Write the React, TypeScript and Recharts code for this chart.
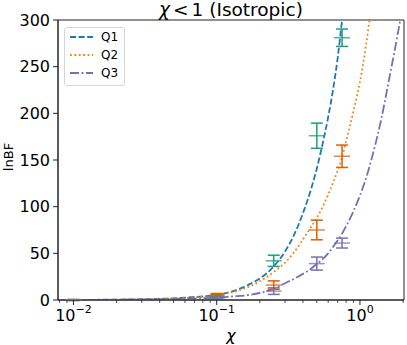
import { ComposedChart, Line, Scatter, ErrorBar, XAxis, YAxis, ReferenceArea } from "recharts";

// ===== data =====
const CURVE_X = [
  0.008, 0.01, 0.02, 0.03, 0.05, 0.07, 0.1, 0.13, 0.17, 0.2, 0.25, 0.3, 0.35,
  0.4, 0.45, 0.5, 0.55, 0.6, 0.65, 0.7, 0.75, 0.8, 0.9, 1.0, 1.1, 1.2, 1.4,
  1.6, 1.8, 2.0, 2.1,
];
const Q1_CURVE = [
  0, 0.1, 0.4, 0.8, 1.8, 3.2, 5.5, 9.5, 17, 23, 36, 52, 71, 93, 116, 141, 168,
  196, 226, 260, 300, 340, null, null, null, null, null, null, null, null, null,
];
const Q2_CURVE = [
  0, 0.1, 0.3, 0.7, 1.6, 2.8, 5, 8.5, 14.5, 20, 30, 40, 52, 65, 77, 88, 100,
  113, 126, 139, 153, 170, 202, 234, 272, 315, null, null, null, null, null,
];
const Q3_CURVE = [
  0, 0.05, 0.2, 0.4, 0.9, 1.5, 2.6, 3.8, 5.5, 7.5, 12, 18, 23, 28, 33, 38.5,
  44, 50, 57, 64, 71, 79, 95, 112, 130, 150, 192, 237, 278, 318, 340,
];

const POINT_X = [0.01, 0.1, 0.25, 0.5, 0.75];
const Q1_MEAN = [0, 4, 42, 176, 281];
const Q1_ERR = [0.5, 1.5, 6, 13.5, 9.3];
const Q2_MEAN = [0, 5, 16, 75, 154];
const Q2_ERR = [0.5, 2, 4.5, 10.5, 12];
const Q3_MEAN = [0, 2, 9.5, 39, 61];
const Q3_ERR = [0.3, 1, 3.5, 7, 5.3];

const Y_TICKS = [0, 50, 100, 150, 200, 250, 300];
const X_MAJOR = [0.01, 0.1, 1];
const X_MINOR = [
  0.008, 0.009, 0.02, 0.03, 0.04, 0.05, 0.06, 0.07, 0.08, 0.09, 0.2, 0.3, 0.4,
  0.5, 0.6, 0.7, 0.8, 0.9, 2,
];

// ===== styling =====
const SERIES = [
  { name: "Q1", curve: Q1_CURVE, mean: Q1_MEAN, err: Q1_ERR, line: "#1f77b4", dash: "6 2.6", bar: "#1b9e77" },
  { name: "Q2", curve: Q2_CURVE, mean: Q2_MEAN, err: Q2_ERR, line: "#ff7f0e", dash: "1.8 2.6", bar: "#d95f02" },
  { name: "Q3", curve: Q3_CURVE, mean: Q3_MEAN, err: Q3_ERR, line: "#7570b3", dash: "9 2.6 1.8 2.6", bar: "#7570b3" },
];

const AXIS = "#222";
const FONT = "'DejaVu Sans', sans-serif";
const X_DOMAIN = [0.0078, 2.03];
const Y_DOMAIN = [0, 300];

const toCurve = (vals: (number | null)[]) =>
  CURVE_X.map((x, i) => ({ x, y: vals[i] })).filter((p) => p.y !== null);

const toPoints = (mean: number[], err: number[]) =>
  POINT_X.map((x, i) => ({ x, y: mean[i], err: err[i] }));

const isMajor = (v: number) => X_MAJOR.some((m) => Math.abs(m - v) < 1e-9);

const XTick = (props: any) => {
  const { x, y, payload } = props;
  const v = Number(payload.value);
  const major = isMajor(v);
  const exp = Math.round(Math.log10(v));
  return (
    <g>
      <line x1={x} x2={x} y1={y} y2={y + (major ? 5 : 3)} stroke={AXIS} strokeWidth={major ? 1 : 0.8} />
      {major && (
        <text x={x} y={y + 21} textAnchor="middle" fontSize={16} fill="#000">
          <tspan>10</tspan>
          <tspan dy={-8} fontSize={11}>{exp < 0 ? `\u2212${-exp}` : `${exp}`}</tspan>
        </text>
      )}
    </g>
  );
};

const makeMarker = (color: string) => (p: any) => (
  <line x1={p.cx - 8} x2={p.cx + 8} y1={p.cy} y2={p.cy} stroke={color} strokeWidth={1.5} strokeOpacity={0.75} />
);

const LegendBox = () => (
  <div
    style={{
      position: "absolute",
      left: 64,
      top: 27,
      padding: "0 6px 3px 5px",
      border: "1px solid #d6d6d6",
      borderRadius: 3,
      background: "rgba(255,255,255,0.8)",
      fontFamily: FONT,
      fontSize: 12,
    }}
  >
    {SERIES.map((s) => (
      <div key={s.name} style={{ display: "flex", alignItems: "center", height: 18 }}>
        <svg width={23} height={6} style={{ marginRight: 8 }}>
          <line x1={0} x2={23} y1={3} y2={3} stroke={s.line} strokeWidth={1.8} strokeDasharray={s.dash} />
        </svg>
        <span>{s.name}</span>
      </div>
    ))}
  </div>
);

export default function App() {
  return (
    <div style={{ position: "absolute", left: 0, top: 0, width: 407, height: 345, fontFamily: FONT, background: "#fff" }}>
      <ComposedChart width={407} height={345} margin={{ top: 20, right: 3, bottom: 0, left: 0 }}>
        <XAxis
          dataKey="x"
          type="number"
          scale="log"
          domain={X_DOMAIN}
          allowDataOverflow
          ticks={[...X_MINOR, ...X_MAJOR]}
          interval={0}
          height={45}
          tickSize={0}
          tickMargin={0}
          tickLine={false}
          tick={<XTick />}
          axisLine={{ stroke: AXIS, strokeWidth: 1 }}
          label={(p: any) => (
            <text x={p.viewBox.x + p.viewBox.width / 2} y={p.viewBox.y + 41} textAnchor="middle" fontSize={16} fontStyle="italic" fill="#000">
              χ
            </text>
          )}
        />
        <YAxis
          dataKey="y"
          type="number"
          domain={Y_DOMAIN}
          allowDataOverflow
          ticks={Y_TICKS}
          interval={0}
          width={58}
          tickSize={5}
          tickMargin={3}
          tick={{ fill: "#000", fontSize: 16 }}
          tickLine={{ stroke: AXIS }}
          axisLine={{ stroke: AXIS, strokeWidth: 1 }}
          label={() => (
            <text x={12.5} y={157} transform="rotate(-90, 12.5, 157)" textAnchor="middle" fontSize={13} fill="#000">
              lnBF
            </text>
          )}
        />

        {SERIES.map((s) => (
          <Line
            key={`line-${s.name}`}
            data={toCurve(s.curve)}
            dataKey="y"
            type="monotone"
            stroke={s.line}
            strokeWidth={1.8}
            strokeDasharray={s.dash}
            dot={false}
            activeDot={false}
            isAnimationActive={false}
          />
        ))}
        {SERIES.map((s) => (
          <Scatter
            key={`pts-${s.name}`}
            data={toPoints(s.mean, s.err)}
            dataKey="y"
            shape={makeMarker(s.bar)}
            isAnimationActive={false}
          >
            <ErrorBar dataKey="err" direction="y" width={6} stroke={s.bar} strokeWidth={1.5} />
          </Scatter>
        ))}

        {/* axes frame + title */}
        <ReferenceArea
          x1={X_DOMAIN[0]}
          x2={X_DOMAIN[1]}
          y1={Y_DOMAIN[0]}
          y2={Y_DOMAIN[1]}
          fill="none"
          fillOpacity={0}
          stroke={AXIS}
          strokeWidth={1}
          ifOverflow="visible"
          label={(p: any) => (
            <text x={p.viewBox.x + p.viewBox.width / 2} y={p.viewBox.y - 4.5} textAnchor="middle" fontSize={18.5} fill="#000">
              <tspan fontStyle="italic">χ</tspan>
              <tspan dx={3}>&lt;</tspan>
              <tspan dx={3}>1 (Isotropic)</tspan>
            </text>
          )}
        />
      </ComposedChart>
      <LegendBox />
    </div>
  );
}
